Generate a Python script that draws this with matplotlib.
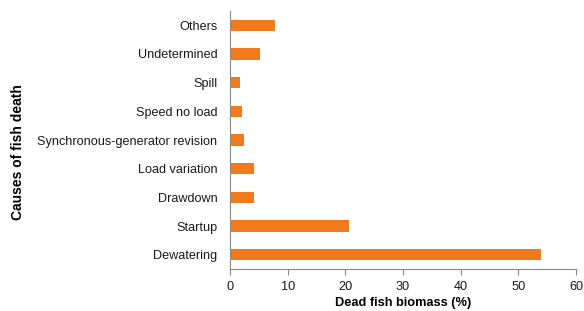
import matplotlib
matplotlib.use("Agg")
import matplotlib.pyplot as plt

categories = ["Dewatering", "Startup", "Drawdown", "Load variation",
              "Synchronous-generator revision", "Speed no load", "Spill",
              "Undetermined", "Others"]
values = [54.0, 20.7, 4.2, 4.2, 2.4, 2.0, 1.7, 5.2, 7.8]
xticks = [0, 10, 20, 30, 40, 50, 60]

plt.rcParams['font.family'] = ['Liberation Sans', 'DejaVu Sans']

fig = plt.figure(figsize=(5.84, 3.11), dpi=100)
ax = fig.add_axes([230/584, 1-269/311, 346/584, 258/311])

ax.barh(range(len(categories)), values, height=0.4, color="#F27A1A")
ax.set_yticks(range(len(categories)))
ax.set_yticklabels(categories, fontsize=9.1, color="#1a1a1a")
ax.set_ylim(-0.5, 8.5)
ax.set_xlim(0, 60)
ax.set_xticks(xticks)
ax.set_xticklabels([str(t) for t in xticks], fontsize=9.2, color="#1a1a1a")
ax.tick_params(axis='y', length=0, pad=9)
ax.tick_params(axis='x', length=4, width=0.8, color="#888888", pad=5)
for s in ["top", "right"]:
    ax.spines[s].set_visible(False)
for s in ["left", "bottom"]:
    ax.spines[s].set_color("#888888")
    ax.spines[s].set_linewidth(0.8)
ax.set_xlabel("Dead fish biomass (%)", fontsize=9.2, fontweight="bold")
ax.set_ylabel("Causes of fish death", fontsize=10, fontweight="bold")
ax.xaxis.set_label_coords(0.5, -34/258, transform=ax.transAxes)
ax.yaxis.set_label_coords((18-230)/346, (269-152)/258, transform=ax.transAxes)
ax.xaxis.label.set_va("center")
ax.yaxis.label.set_va("center")

fig.savefig("out.png", dpi=100)
